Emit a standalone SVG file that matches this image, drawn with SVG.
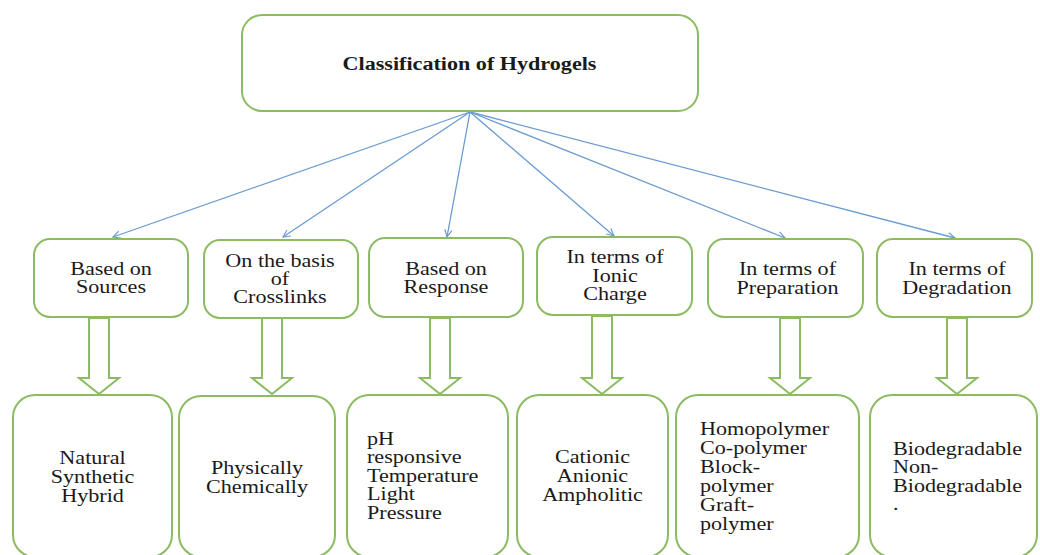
<svg xmlns="http://www.w3.org/2000/svg" width="1040" height="555" viewBox="0 0 1040 555">
<defs>
<style>
.box{fill:#fff;stroke:#8cbb62;stroke-width:2}
.blk{fill:#fff;stroke:#8cbb62;stroke-width:2;stroke-linejoin:miter}
.t{font-family:'Liberation Serif','DejaVu Serif',serif;font-size:18px;fill:#1a1a1a}
.c{text-anchor:middle}
.ttl{font-weight:bold}
.ln{stroke:#6a9bd0;stroke-width:1.3;fill:none}
</style>
<marker id="ah" viewBox="0 0 10 10" refX="9" refY="5" markerWidth="9" markerHeight="9" markerUnits="userSpaceOnUse" orient="auto">
<path d="M1,1 L9,5 L1,9" fill="none" stroke="#6a9bd0" stroke-width="1.3"/>
</marker>
</defs>
<rect width="1040" height="555" fill="#fff"/>

<g id="connectors">
<line class="ln" x1="470" y1="112" x2="113" y2="237" marker-end="url(#ah)"/>
<line class="ln" x1="470" y1="112" x2="283" y2="237" marker-end="url(#ah)"/>
<line class="ln" x1="470" y1="112" x2="447" y2="237" marker-end="url(#ah)"/>
<line class="ln" x1="470" y1="112" x2="614" y2="236" marker-end="url(#ah)"/>
<line class="ln" x1="470" y1="112" x2="785" y2="238" marker-end="url(#ah)"/>
<line class="ln" x1="470" y1="112" x2="955" y2="238" marker-end="url(#ah)"/>
</g>

<g id="block-arrows">
<path class="blk" d="M89,318 L109,318 L109,378 L119,378 L99,394 L79,378 L89,378 Z"/>
<path class="blk" d="M262,318 L282,318 L282,378 L292,378 L272,394 L252,378 L262,378 Z"/>
<path class="blk" d="M430,318 L450,318 L450,378 L460,378 L440,394 L420,378 L430,378 Z"/>
<path class="blk" d="M592,316 L612,316 L612,378 L622,378 L602,394 L582,378 L592,378 Z"/>
<path class="blk" d="M780,318 L800,318 L800,378 L810,378 L790,394 L770,378 L780,378 Z"/>
<path class="blk" d="M947,318 L967,318 L967,378 L977,378 L957,394 L937,378 L947,378 Z"/>
</g>

<g id="root">
<rect class="box" x="242" y="15" width="456" height="96" rx="20"/>
<text class="t c ttl" font-family="Liberation Serif, DejaVu Serif, serif" transform="translate(469.5 0) scale(1.23 1)"><tspan x="0" y="70">Classification of Hydrogels</tspan></text>
</g>

<g id="sources">
<rect class="box" x="34" y="239" width="154" height="78" rx="16"/>
<text class="t c" font-family="Liberation Serif, DejaVu Serif, serif" transform="translate(111 0) scale(1.23 1)"><tspan x="0" y="275">Based on</tspan><tspan x="0" y="293">Sources</tspan></text>
</g>
<g id="crosslinks">
<rect class="box" x="204" y="240" width="154" height="78" rx="16"/>
<text class="t c" font-family="Liberation Serif, DejaVu Serif, serif" transform="translate(280 0) scale(1.23 1)"><tspan x="0" y="267">On the basis</tspan><tspan x="0" y="285">of</tspan><tspan x="0" y="303">Crosslinks</tspan></text>
</g>
<g id="response">
<rect class="box" x="369" y="238" width="154" height="79" rx="16"/>
<text class="t c" font-family="Liberation Serif, DejaVu Serif, serif" transform="translate(446 0) scale(1.23 1)"><tspan x="0" y="275">Based on</tspan><tspan x="0" y="293">Response</tspan></text>
</g>
<g id="ionic">
<rect class="box" x="537" y="237" width="155" height="78" rx="16"/>
<text class="t c" font-family="Liberation Serif, DejaVu Serif, serif" transform="translate(615 0) scale(1.23 1)"><tspan x="0" y="263">In terms of</tspan><tspan x="0" y="282">Ionic</tspan><tspan x="0" y="300">Charge</tspan></text>
</g>
<g id="preparation">
<rect class="box" x="708" y="239" width="155" height="78" rx="16"/>
<text class="t c" font-family="Liberation Serif, DejaVu Serif, serif" transform="translate(787.5 0) scale(1.23 1)"><tspan x="0" y="275">In terms of</tspan><tspan x="0" y="294">Preparation</tspan></text>
</g>
<g id="degradation">
<rect class="box" x="877" y="239" width="155" height="78" rx="16"/>
<text class="t c" font-family="Liberation Serif, DejaVu Serif, serif" transform="translate(957 0) scale(1.23 1)"><tspan x="0" y="275">In terms of</tspan><tspan x="0" y="294">Degradation</tspan></text>
</g>

<g id="sources-list">
<rect class="box" x="13" y="395" width="159" height="162" rx="22"/>
<text class="t c" font-family="Liberation Serif, DejaVu Serif, serif" transform="translate(92.5 0) scale(1.23 1)"><tspan x="0" y="464">Natural</tspan><tspan x="0" y="483">Synthetic</tspan><tspan x="0" y="502">Hybrid</tspan></text>
</g>
<g id="crosslinks-list">
<rect class="box" x="179" y="396" width="156" height="161" rx="22"/>
<text class="t c" font-family="Liberation Serif, DejaVu Serif, serif" transform="translate(257 0) scale(1.23 1)"><tspan x="0" y="474">Physically</tspan><tspan x="0" y="493">Chemically</tspan></text>
</g>
<g id="response-list">
<rect class="box" x="347" y="395" width="161" height="162" rx="22"/>
<text class="t" font-family="Liberation Serif, DejaVu Serif, serif" transform="translate(367 0) scale(1.23 1)"><tspan x="0" y="445">pH</tspan><tspan x="0" y="463">responsive</tspan><tspan x="0" y="482">Temperature</tspan><tspan x="0" y="500">Light</tspan><tspan x="0" y="519">Pressure</tspan></text>
</g>
<g id="ionic-list">
<rect class="box" x="517" y="395" width="151" height="162" rx="22"/>
<text class="t c" font-family="Liberation Serif, DejaVu Serif, serif" transform="translate(592.5 0) scale(1.23 1)"><tspan x="0" y="463">Cationic</tspan><tspan x="0" y="482">Anionic</tspan><tspan x="0" y="501">Ampholitic</tspan></text>
</g>
<g id="preparation-list">
<rect class="box" x="676" y="395" width="183" height="162" rx="22"/>
<text class="t" font-family="Liberation Serif, DejaVu Serif, serif" transform="translate(700 0) scale(1.23 1)"><tspan x="0" y="435">Homopolymer</tspan><tspan x="0" y="454">Co-polymer</tspan><tspan x="0" y="473">Block-</tspan><tspan x="0" y="492">polymer</tspan><tspan x="0" y="511">Graft-</tspan><tspan x="0" y="530">polymer</tspan></text>
</g>
<g id="degradation-list">
<rect class="box" x="870" y="395" width="167" height="162" rx="22"/>
<text class="t" font-family="Liberation Serif, DejaVu Serif, serif" transform="translate(893 0) scale(1.23 1)"><tspan x="0" y="455">Biodegradable</tspan><tspan x="0" y="473">Non-</tspan><tspan x="0" y="492">Biodegradable</tspan><tspan x="0" y="510">.</tspan></text>
</g>
</svg>
